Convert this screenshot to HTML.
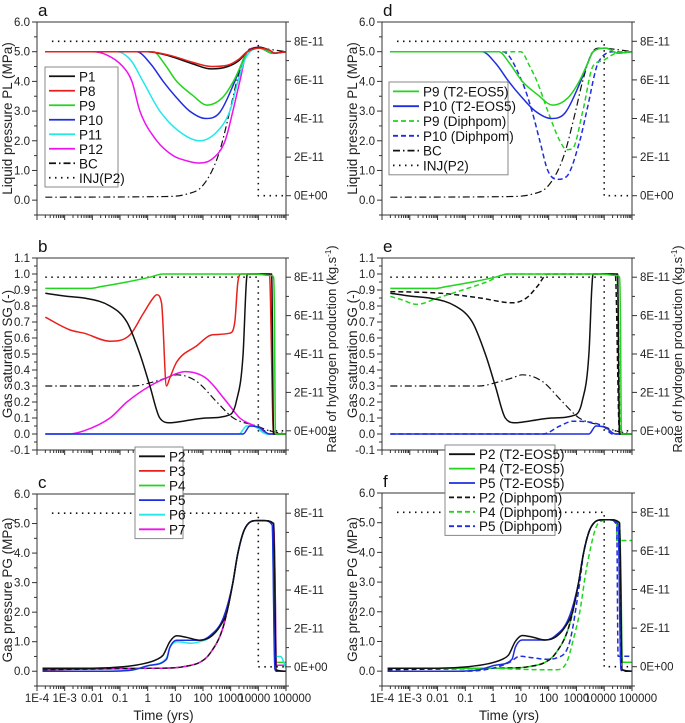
<!DOCTYPE html>
<html><head><meta charset="utf-8">
<style>
html,body{margin:0;padding:0;background:#fff;}
svg{display:block;font-family:"Liberation Sans",Arial,sans-serif;}
</style></head>
<body>
<svg id="fig" width="685" height="723" viewBox="0 0 685 723" xmlns="http://www.w3.org/2000/svg"></svg>
<script>
// ---- data (log10 time in yrs, value) ----
const inj_logt=[-3.46,4.0,4.0,5.0]; const inj_rate=[8,8,0,0];
const inj2_logt=[-3.7,4.0,4.0,5.0];
// panel a (PL, MPa)
const a_P1_t=[-3.7,0.0,0.8,1.6,2.3,2.9,3.3,3.6,4.05,4.4,4.6,5.0]; const a_P1_v=[5,5,4.85,4.6,4.42,4.5,4.7,5.0,5.15,5.05,4.95,5.0];
const a_P8_t=[-3.7,0.0,0.8,1.6,2.3,2.9,3.3,3.6,4.05,4.4,4.6,5.0]; const a_P8_v=[5,5,4.88,4.65,4.5,4.55,4.75,5.0,5.12,5.05,4.95,5.0];
const a_P9_t=[-3.7,0.2,0.6,1.05,1.6,2.15,2.7,3.1,3.4,3.6,4.05,4.5,5.0]; const a_P9_v=[5,5,4.6,4.0,3.55,3.2,3.45,4.0,4.6,5.0,5.12,4.95,5.0];
const a_P10_t=[-3.7,-0.4,0.1,0.56,1.0,1.52,2.1,2.6,3.15,3.4,3.6,4.05,4.5,5.0]; const a_P10_v=[5,5,4.6,4.0,3.5,3.0,2.75,2.95,4.0,4.6,5.0,5.12,4.95,5.0];
const a_P11_t=[-3.7,-1.1,-0.6,-0.17,0.44,1.16,1.88,2.5,2.97,3.26,3.5,3.7,4.05,4.5,5.0]; const a_P11_v=[5,5,4.7,4.0,3.0,2.3,2.0,2.3,3.0,4.0,4.7,5.0,5.12,4.95,5.0];
const a_P12_t=[-3.7,-2.0,-1.5,-0.9,-0.57,-0.28,0.33,0.92,1.4,1.82,2.35,2.8,3.08,3.33,3.6,4.05,4.5,5.0]; const a_P12_v=[5,5,4.9,4.5,4.0,3.0,2.0,1.5,1.33,1.25,1.4,2.0,3.0,4.0,5.0,5.15,4.95,5.0];
const a_BC_t=[-3.7,0.5,1.4,2.0,2.55,2.97,3.22,3.58,3.85,4.2,5.0]; const a_BC_v=[0.1,0.12,0.2,0.5,1.5,3.0,4.0,5.0,5.12,5.1,5.0];
// panel b (SG)
const b_P2_t=[-3.7,-2.9,-2.3,-1.36,-0.75,-0.28,0.08,0.44,0.8,1.27,2.1,2.97,3.2,3.45,3.55,3.6,4.48,4.55,5.0]; const b_P2_v=[0.88,0.86,0.85,0.8,0.7,0.5,0.3,0.1,0.07,0.08,0.1,0.12,0.2,0.5,0.9,1.0,1.0,0,0];
const b_P3_t=[-3.7,-2.8,-2.3,-1.36,-0.64,-0.17,0.2,0.33,0.5,0.68,0.8,1.05,1.76,2.35,2.97,3.15,3.26,3.38,4.4,4.55,5.0]; const b_P3_v=[0.73,0.65,0.63,0.58,0.62,0.75,0.85,0.87,0.82,0.3,0.35,0.45,0.55,0.62,0.63,0.7,0.95,1.0,1.0,0,0];
const b_P4_t=[-3.7,-2.08,-1.72,-0.75,0.08,0.55,3.8,4.48,4.55,4.58,4.62,5.0]; const b_P4_v=[0.91,0.91,0.92,0.95,0.98,1.0,1.0,0.99,0.98,0.78,0,0];
const b_P5_t=[-3.7,3.45,3.7,4.05,4.4,5.0]; const b_P5_v=[0,0,0.05,0.04,0,0];
const b_P6_t=[-3.7,3.3,3.58,3.8,4.3,5.0]; const b_P6_v=[0,0,0.05,0.05,0,0];
const b_P7_t=[-3.7,-2.9,-2.3,-1.36,-0.75,0.08,0.8,1.34,2.1,2.86,3.33,3.87,4.4,5.0]; const b_P7_v=[0,0,0.02,0.1,0.2,0.3,0.36,0.39,0.35,0.2,0.1,0.05,0,0];
const b_BC_t=[-3.7,-0.5,0.08,0.68,1.05,1.76,2.5,3.1,3.94,4.4,5.0]; const b_BC_v=[0.3,0.3,0.32,0.35,0.37,0.33,0.2,0.1,0.05,0.02,0];
// panel c (PG)
const c_P2_t=[-3.8,-2.0,-0.9,-0.17,0.33,0.56,0.8,1.05,1.4,1.88,2.25,2.6,2.86,3.08,3.26,3.5,3.94,4.2,4.55,4.65,5.0]; const c_P2_v=[0.1,0.1,0.15,0.25,0.4,0.55,1.0,1.2,1.15,1.05,1.15,1.5,2.0,3.0,4.0,4.8,5.1,5.1,5.0,0.05,0];
const c_P5_t=[-3.8,-1.36,-0.5,0.08,0.68,0.8,1.05,1.88,2.25,2.73,3.08,3.26,3.5,3.94,4.2,4.5,4.6,5.0]; const c_P5_v=[0,0,0.05,0.2,0.4,0.8,1.05,1.05,1.2,1.8,3.0,4.0,4.8,5.1,5.1,4.95,0.05,0];
const c_P6_t=[-3.8,-1.36,-0.5,0.08,0.68,0.8,1.05,1.6,1.88,2.25,2.73,3.08,3.26,3.5,3.94,4.2,4.5,4.6,4.8,5.0]; const c_P6_v=[0,0,0.05,0.2,0.45,0.8,1.0,0.95,1.0,1.15,1.75,3.0,4.0,4.8,5.1,5.1,4.95,0.5,0.5,0.1];
const c_low_t=[-3.8,0.0,1.0,1.27,1.88,2.25,2.73,3.08,3.26,3.5,3.94,4.2,4.55,4.6,4.65,5.0]; const c_P4_v=[0.1,0.1,0.12,0.15,0.3,0.6,1.5,3.0,4.0,4.8,5.1,5.1,5.0,3.3,0.3,0.3];
const c_P3_v=[0.05,0.1,0.12,0.15,0.3,0.6,1.5,3.0,4.0,4.8,5.1,5.1,5.0,0.1,0,0];
const c_P7_v=[0.1,0.1,0.12,0.15,0.3,0.6,1.5,3.0,4.0,4.8,5.1,5.1,5.0,3.5,0.2,0.2];
// panel d
const d_P9D_t=[-3.7,0.71,1.0,1.32,1.58,1.97,2.4,2.65,2.87,3.23,3.59,3.95,4.3,4.6,5.0]; const d_P9D_v=[5,5,5.0,4.5,4.0,3.0,2.0,1.7,1.75,3.0,4.5,4.7,4.9,5.0,5.0];
const d_P10D_t=[-3.7,0.35,1.04,1.4,1.68,1.97,2.3,2.65,3.12,3.37,3.73,3.9,4.3,5.0]; const d_P10D_v=[5,5,4.0,3.0,2.0,1.0,0.7,0.8,2.0,3.0,4.5,4.8,5.0,5.0];
// panel e
const e_P2D_t=[-3.7,-1.9,-0.47,0.71,1.2,1.58,1.97,4.4,4.55,5.0]; const e_P2D_v=[0.89,0.88,0.85,0.82,0.85,0.92,1.0,1.0,0,0];
const e_P4D_t=[-3.7,-3.3,-2.75,-2.0,-1.1,-0.23,0.5,4.45,4.5,4.58,5.0]; const e_P4D_v=[0.86,0.84,0.81,0.85,0.9,0.95,1.0,1.0,0.78,0,0];
const e_P5D_t=[-3.7,1.8,2.4,2.87,3.95,4.3,5.0]; const e_P5D_v=[0,0,0.05,0.08,0.05,0,0];
// panel f
const f_P4D_t=[-3.8,-0.3,0.5,1.68,2.3,2.65,2.87,3.12,3.37,3.8,4.2,4.45,4.45,5.0]; const f_P4D_v=[0.1,0.1,0.08,0.05,0.05,0.3,1.0,2.0,3.5,5.0,5.1,5.0,4.4,4.4];
const f_P5D_t=[-3.8,-1.0,0.0,0.6,0.96,1.43,1.93,2.3,2.76,3.12,3.26,3.5,3.94,4.2,4.45,4.5,5.0]; const f_P5D_v=[0,0,0.1,0.3,0.5,0.45,0.4,0.45,1.0,3.0,4.0,4.8,5.1,5.1,4.9,0.5,0.5];

const S='http://www.w3.org/2000/svg';
const fig=document.getElementById('fig');
function el(tag,attrs,parent){const e=document.createElementNS(S,tag);for(const k in attrs)e.setAttribute(k,attrs[k]);(parent||fig).appendChild(e);return e;}
const DASH={solid:null,dash:'5,3',dashdot:'7,3,1.5,3',dot:'1.5,4.5'};

function smoothPath(P){
  let d='M'+P[0][0].toFixed(1)+','+P[0][1].toFixed(1);
  let runs=[],cur=[P[0]];
  for(let i=1;i<P.length;i++){
    if(P[i][0]-P[i-1][0]<0.5){runs.push(cur);cur=[P[i]];runs.push('L');}
    else cur.push(P[i]);
  }
  runs.push(cur);
  runs.forEach(r=>{
    if(r==='L')return;
    const n=r.length;
    d+=' L'+r[0][0].toFixed(1)+','+r[0][1].toFixed(1);
    if(n<2)return;
    const dx=[],m=[],t=[];
    for(let i=0;i<n-1;i++){dx[i]=r[i+1][0]-r[i][0];m[i]=(r[i+1][1]-r[i][1])/dx[i];}
    t[0]=m[0];t[n-1]=m[n-2];
    for(let i=1;i<n-1;i++){t[i]=(m[i-1]*m[i]<=0)?0:(m[i-1]+m[i])/2;}
    for(let i=0;i<n-1;i++){
      if(m[i]===0){t[i]=0;t[i+1]=0;continue;}
      const a=t[i]/m[i],b=t[i+1]/m[i],s=a*a+b*b;
      if(s>9){const k=3/Math.sqrt(s);t[i]=k*a*m[i];t[i+1]=k*b*m[i];}
    }
    for(let i=0;i<n-1;i++){
      const h=dx[i]/3;
      d+=` C${(r[i][0]+h).toFixed(1)},${(r[i][1]+t[i]*h).toFixed(1)} ${(r[i+1][0]-h).toFixed(1)},${(r[i+1][1]-t[i+1]*h).toFixed(1)} ${r[i+1][0].toFixed(1)},${r[i+1][1].toFixed(1)}`;
    }
  });
  return d;
}

function panel(p){
  const g=el('g',{});
  
  
  const W=p.R-p.L,H=p.B-p.T;
  const xs=lt=>p.L+(lt+4)/9*W;
  const ys=v=>p.B-(v-p.ymin)/(p.ymax-p.ymin)*H;
  const yr=v=>p.B-(v+1)/10*H;
  const clip='clip'+p.id;
  const cp=el('clipPath',{id:clip},g);el('rect',{x:p.L,y:p.T,width:W,height:H},cp);
  const sg=el('g',{'clip-path':'url(#'+clip+')'},g);
  p.series.forEach(s=>{
    const f=s.axis==='R'?yr:ys;
    const pts=s.t.map((t,i)=>[xs(t),f(s.v[i])]);
    const a={d:smoothPath(pts),fill:'none',stroke:s.c,'stroke-width':s.w||1.5,'stroke-linejoin':'round'};
    if(DASH[s.d])a['stroke-dasharray']=DASH[s.d];
    const pl=el('path',a,sg);
    
    
  });
  el('rect',{x:p.L,y:p.T,width:W,height:H,fill:'none',stroke:'#333','stroke-width':1},g);
  const nSteps=Math.round((p.ymax-p.ymin)/(p.step/2));
  for(let k=0;k<=nSteps;k++){
    const v=p.ymin+k*p.step/2;
    const q=v/p.step,maj=Math.abs(q-Math.round(q))<1e-6;
    const y=ys(v);
    el('line',{x1:p.L,x2:p.L-(maj?5:3),y1:y,y2:y,stroke:'#333'},g);
    if(maj){const t=el('text',{x:p.L-7,y:y+4,'font-size':11.5,'text-anchor':'end',fill:'#222'},g);t.textContent=(Math.abs(v)<1e-9?0:v).toFixed(1);
      }
  }
  for(let v=-1;v<=9;v+=1){
    const y=yr(v),maj=v%2===0&&v>=0;
    el('line',{x1:p.R,x2:p.R+(maj?5:3),y1:y,y2:y,stroke:'#333'},g);
    if(maj){const t=el('text',{x:p.R+8,y:y+4,'font-size':11.5,fill:'#222'},g);t.textContent=v+'E'+(v===0?'+00':'-11');
      }
  }
  const labs=['1E-4','1E-3','0.01','0.1','1','10','100','1000','10000','100000'];
  for(let d=-4;d<=5;d++){
    el('line',{x1:xs(d),x2:xs(d),y1:p.B,y2:p.B+5,stroke:'#333'},g);
    if(d<5)for(let m=2;m<=9;m++){const x=xs(d+Math.log10(m));el('line',{x1:x,x2:x,y1:p.B,y2:p.B+3,stroke:'#333'},g);}
    if(p.xlab){const t=el('text',{x:xs(d)+(d===4?-4:d===5?6:0),y:p.B+16,'font-size':11.5,'text-anchor':'middle',fill:'#222'},g);t.textContent=labs[d+4];
      }
  }
  if(p.xlab){const t=el('text',{x:p.L+(p.R-p.L)/2+2,y:p.B+34,'font-size':13.5,'text-anchor':'middle',fill:'#222'},g);t.textContent='Time (yrs)';
    }
  const lab=el('text',{x:p.L+1,y:p.T-6,'font-size':17,fill:'#111'},g);lab.textContent=p.id;
  
  const yt=el('text',{x:0,y:0,'font-size':13.5,'text-anchor':'middle',fill:'#222',transform:`translate(${p.L-25},${(p.T+p.B)/2}) rotate(-90)`},g);yt.textContent=p.ytitle;
  
  if(p.rtitle){const rt=el('text',{x:0,y:0,'font-size':13,'text-anchor':'middle',fill:'#222',transform:`translate(${p.R+50},${(p.T+p.B)/2-5}) rotate(-90)`},g);
    rt.innerHTML='Rate of hydrogen production (kg.s<tspan font-size="8" dy="-5">-1</tspan><tspan dy="5">)</tspan>';
    }
}
function legend(x,y,w,rowH,entries,name){
  const g=el('g',{});
  
  
  el('rect',{x:x,y:y,width:w,height:rowH*entries.length+4,fill:'#fff',stroke:'#888','stroke-width':1},g);
  entries.forEach((e,i)=>{
    const cy=y+2+rowH*(i+0.5);
    const a={x1:x+4,x2:x+30,y1:cy,y2:cy,stroke:e.c,'stroke-width':1.8};
    if(DASH[e.d])a['stroke-dasharray']=DASH[e.d];
    el('line',a,g);
    const t=el('text',{x:x+34,y:cy+5,'font-size':13.5,fill:'#111'},g);t.textContent=e.n;
    
  });
}
const K='#111',RD='#e8201c',GR='#22d41e',BL='#1f2de0',CY='#22e8e8',MG='#ee12ee';
const INJ={name:'inj',t:inj_logt,v:inj_rate,c:K,d:'dot',axis:'R',w:1.6};
const INJ2={name:'inj',t:inj2_logt,v:inj_rate,c:K,d:'dot',axis:'R',w:1.6};

panel({id:'a',L:37,R:286,T:22,B:215,ymin:-0.5,ymax:6,step:1,ytitle:'Liquid pressure PL (MPa)',series:[
 INJ,{name:'bc',t:a_BC_t,v:a_BC_v,c:K,d:'dashdot',w:1.2},
 {name:'p12',t:a_P12_t,v:a_P12_v,c:MG},{name:'p11',t:a_P11_t,v:a_P11_v,c:CY},{name:'p10',t:a_P10_t,v:a_P10_v,c:BL},
 {name:'p9',t:a_P9_t,v:a_P9_v,c:GR},{name:'p1',t:a_P1_t,v:a_P1_v,c:K},{name:'p8',t:a_P8_t,v:a_P8_v,c:RD}]});
panel({id:'b',L:37,R:286,T:258,B:450,ymin:-0.1,ymax:1.1,step:0.1,ytitle:'Gas saturation SG (-)',rtitle:true,series:[
 INJ2,{name:'bc',t:b_BC_t,v:b_BC_v,c:K,d:'dashdot',w:1.2},
 {name:'p7',t:b_P7_t,v:b_P7_v,c:MG},{name:'p6',t:b_P6_t,v:b_P6_v,c:CY},{name:'p5',t:b_P5_t,v:b_P5_v,c:BL},
 {name:'p3',t:b_P3_t,v:b_P3_v,c:RD},{name:'p2',t:b_P2_t,v:b_P2_v,c:K},{name:'p4',t:b_P4_t,v:b_P4_v,c:GR}]});
panel({id:'c',L:37,R:286,T:494,B:686,ymin:-0.5,ymax:6,step:1,ytitle:'Gas pressure PG (MPa)',xlab:true,series:[
 INJ,{name:'p3',t:c_low_t,v:c_P3_v,c:RD},{name:'p4',t:c_low_t,v:c_P4_v,c:GR},{name:'p7',t:c_low_t,v:c_P7_v,c:MG},
 {name:'p2-low',t:c_low_t,v:c_P3_v,c:K,d:'dash',w:1.2},
 {name:'p6',t:c_P6_t,v:c_P6_v,c:CY},{name:'p5',t:c_P5_t,v:c_P5_v,c:BL},{name:'p2',t:c_P2_t,v:c_P2_v,c:K}]});
panel({id:'d',L:382,R:632,T:22,B:215,ymin:-0.5,ymax:6,step:1,ytitle:'Liquid pressure PL (MPa)',series:[
 INJ,{name:'bc',t:a_BC_t,v:a_BC_v,c:K,d:'dashdot',w:1.2},
 {name:'p10-diphpom',t:d_P10D_t,v:d_P10D_v,c:BL,d:'dash'},{name:'p9-diphpom',t:d_P9D_t,v:d_P9D_v,c:GR,d:'dash'},
 {name:'p10',t:a_P10_t,v:a_P10_v,c:BL},{name:'p9',t:a_P9_t,v:a_P9_v,c:GR}]});
panel({id:'e',L:382,R:632,T:258,B:450,ymin:-0.1,ymax:1.1,step:0.1,ytitle:'Gas saturation SG (-)',rtitle:true,series:[
 INJ2,{name:'bc',t:b_BC_t,v:b_BC_v,c:K,d:'dashdot',w:1.2},
 {name:'p5-diphpom',t:e_P5D_t,v:e_P5D_v,c:BL,d:'dash'},{name:'p5',t:b_P5_t,v:b_P5_v,c:BL},
 {name:'p2-diphpom',t:e_P2D_t,v:e_P2D_v,c:K,d:'dash'},{name:'p4-diphpom',t:e_P4D_t,v:e_P4D_v,c:GR,d:'dash'},
 {name:'p2',t:b_P2_t,v:b_P2_v,c:K},{name:'p4',t:b_P4_t,v:b_P4_v,c:GR}]});
panel({id:'f',L:382,R:632,T:493,B:686,ymin:-0.5,ymax:6,step:1,ytitle:'Gas pressure PG (MPa)',xlab:true,series:[
 INJ,{name:'p4',t:c_low_t,v:c_P4_v,c:GR},{name:'p2-diphpom',t:c_low_t,v:c_P3_v,c:K,d:'dash'},
 {name:'p4-diphpom',t:f_P4D_t,v:f_P4D_v,c:GR,d:'dash'},{name:'p5-diphpom',t:f_P5D_t,v:f_P5D_v,c:BL,d:'dash'},
 {name:'p5',t:c_P5_t,v:c_P5_v,c:BL},{name:'p2',t:c_P2_t,v:c_P2_v,c:K}]});

legend(45,67,73,14.5,[{n:'P1',c:K},{n:'P8',c:RD},{n:'P9',c:GR},{n:'P10',c:BL},{n:'P11',c:CY},{n:'P12',c:MG},{n:'BC',c:K,d:'dashdot'},{n:'INJ(P2)',c:K,d:'dot'}],'legend-a');
legend(135,447,48,14.6,[{n:'P2',c:K},{n:'P3',c:RD},{n:'P4',c:GR},{n:'P5',c:BL},{n:'P6',c:CY},{n:'P7',c:MG}],'legend-bc');
legend(389,82,119,14.8,[{n:'P9 (T2-EOS5)',c:GR},{n:'P10 (T2-EOS5)',c:BL},{n:'P9 (Diphpom)',c:GR,d:'dash'},{n:'P10 (Diphpom)',c:BL,d:'dash'},{n:'BC',c:K,d:'dashdot'},{n:'INJ(P2)',c:K,d:'dot'}],'legend-d');
legend(445,445,110,14.4,[{n:'P2 (T2-EOS5)',c:K},{n:'P4 (T2-EOS5)',c:GR},{n:'P5 (T2-EOS5)',c:BL},{n:'P2 (Diphpom)',c:K,d:'dash'},{n:'P4 (Diphpom)',c:GR,d:'dash'},{n:'P5 (Diphpom)',c:BL,d:'dash'}],'legend-ef');
</script>
</body></html>
